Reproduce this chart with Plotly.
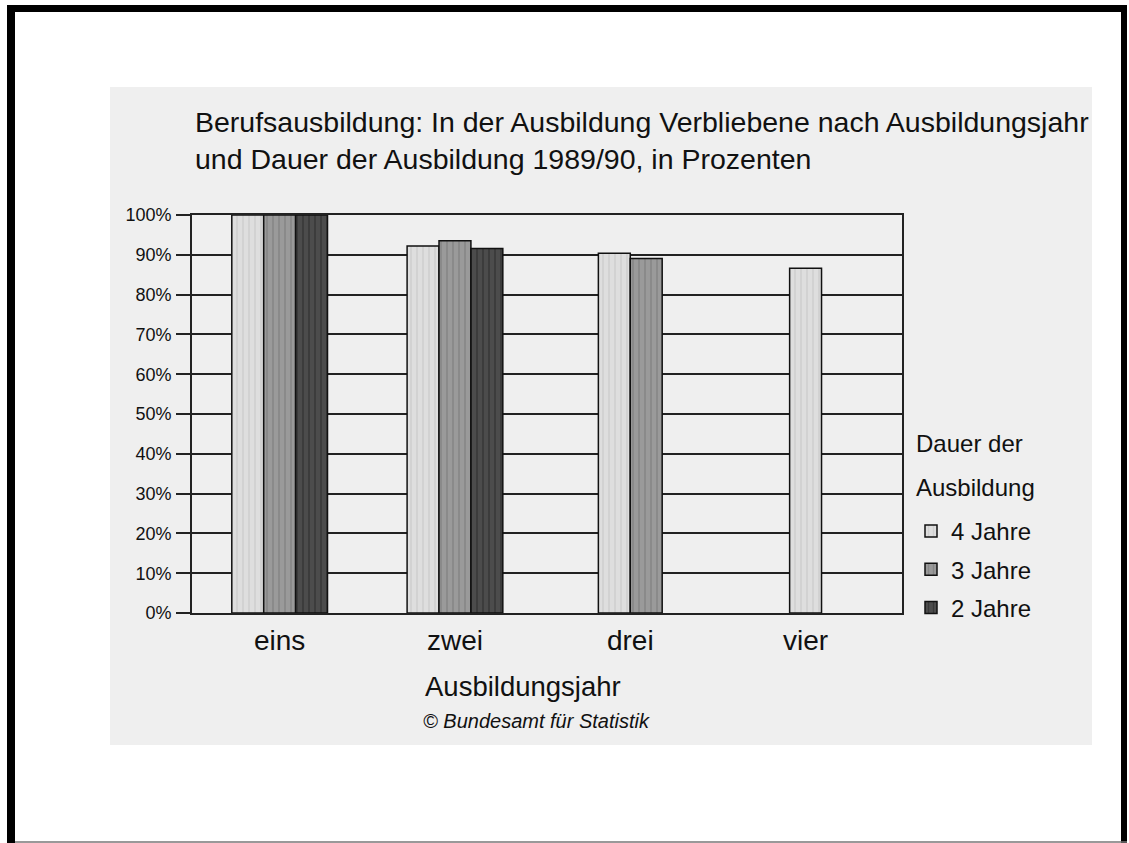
import plotly.graph_objects as go

# ---- data ----
categories = ["eins", "zwei", "drei", "vier"]
series_names = ["4 Jahre", "3 Jahre", "2 Jahre"]
vals_4_jahre = [100, 92.2, 90.4, 86.6]
vals_3_jahre = [100, 93.5, 89.1, None]
vals_2_jahre = [100, 91.6, None, None]
y_ticks = [0, 10, 20, 30, 40, 50, 60, 70, 80, 90, 100]
y_tick_labels = ["0%", "10%", "20%", "30%", "40%", "50%", "60%", "70%", "80%", "90%", "100%"]

series_values = [vals_4_jahre, vals_3_jahre, vals_2_jahre]
fills = ["#dedede", "#9a9a9a", "#4c4c4c"]
streaks = ["#cfcfcf", "#858585", "#363636"]

FONT = "Liberation Sans, Arial, Helvetica, sans-serif"
W, H = 1129, 843
# plot area in px
L, R, T, B = 192, 902, 215, 613


def px(xs):
    return (xs - L) / (R - L)


def py(ys):
    return (B - ys) / (B - T)


# bars centred per category among the series that have a value
bar_w = 0.182
offsets = []
for s_idx, vals in enumerate(series_values):
    offs = []
    for c_idx in range(len(categories)):
        present = [k for k in range(len(series_values)) if series_values[k][c_idx] is not None]
        n = len(present)
        if vals[c_idx] is None:
            offs.append(0)
        else:
            k = present.index(s_idx)
            offs.append(-n * bar_w / 2 + k * bar_w)
    offsets.append(offs)

fig = go.Figure()
for name, vals, offs, col, st in zip(series_names, series_values, offsets, fills, streaks):
    fig.add_trace(go.Bar(
        x=list(range(len(categories))), y=vals, name=name,
        width=bar_w, offset=offs,
        marker=dict(color=col, line=dict(color="#111111", width=1.5),
                    pattern=dict(shape="|", bgcolor=col, fgcolor=st, size=6, solidity=0.25,
                                 fillmode="replace")),
        legendgroup=name,
    ))

shapes = [
    # light grey scanned page
    dict(type="rect", xref="paper", yref="paper", x0=px(110), x1=px(1092), y0=py(745), y1=py(87),
         fillcolor="#efefef", line=dict(width=0), layer="below"),
    # black frame
    dict(type="rect", xref="paper", yref="paper", x0=px(7), x1=px(15), y0=py(843), y1=py(5),
         fillcolor="#000000", line=dict(width=0)),
    dict(type="rect", xref="paper", yref="paper", x0=px(7), x1=px(1127), y0=py(12), y1=py(5),
         fillcolor="#000000", line=dict(width=0)),
    dict(type="rect", xref="paper", yref="paper", x0=px(1121), x1=px(1127), y0=py(843), y1=py(5),
         fillcolor="#000000", line=dict(width=0)),
    dict(type="line", xref="paper", yref="paper", x0=px(15), x1=px(1127), y0=py(842), y1=py(842),
         line=dict(color="#777777", width=1.5)),
]

annotations = [
    dict(text="Ausbildungsjahr", xref="paper", yref="paper", x=px(523), y=py(686),
         xanchor="center", yanchor="middle", showarrow=False,
         font=dict(family=FONT, size=27.5, color="#111111")),
    dict(text="<i>© Bundesamt für Statistik</i>", xref="paper", yref="paper", x=px(421), y=py(721),
         xanchor="left", yanchor="middle", showarrow=False,
         font=dict(family=FONT, size=20, color="#111111")),
    dict(text="Dauer der", xref="paper", yref="paper", x=px(914), y=py(443),
         xanchor="left", yanchor="middle", showarrow=False,
         font=dict(family=FONT, size=24, color="#111111")),
    dict(text="Ausbildung", xref="paper", yref="paper", x=px(914), y=py(487),
         xanchor="left", yanchor="middle", showarrow=False,
         font=dict(family=FONT, size=24, color="#111111")),
]

fig.update_layout(
    width=W, height=H,
    margin=dict(l=L, r=W - R, t=T, b=H - B, autoexpand=False),
    paper_bgcolor="#ffffff",
    plot_bgcolor="#efefef",
    barmode="overlay",
    font=dict(family=FONT, color="#111111"),
    title=dict(
        text="Berufsausbildung: In der Ausbildung Verbliebene nach Ausbildungsjahr<br>"
             "und Dauer der Ausbildung 1989/90, in Prozenten",
        x=px(195), xref="paper", xanchor="left",
        y=1 - 132 / H, yref="container", yanchor="top",
        font=dict(family=FONT, size=28.5, color="#111111"),
    ),
    xaxis=dict(
        tickmode="array", tickvals=list(range(len(categories))), ticktext=categories,
        range=[-0.5, 3.55], showgrid=False, zeroline=False,
        showline=True, linecolor="#222222", linewidth=1.5, mirror=True,
        ticks="", tickfont=dict(family=FONT, size=28, color="#111111"),
        ticklabelstandoff=2,
    ),
    yaxis=dict(
        range=[0, 100], tickmode="array", tickvals=y_ticks, ticktext=y_tick_labels,
        showgrid=True, gridcolor="#222222", gridwidth=1.6, zeroline=False,
        showline=True, linecolor="#222222", linewidth=1.6, mirror=True,
        ticks="outside", ticklen=14, tickwidth=1.6, tickcolor="#222222",
        tickfont=dict(family=FONT, size=18, color="#111111"),
        ticklabelstandoff=1,
    ),
    legend=dict(
        x=px(911), y=py(509), xanchor="left", yanchor="top",
        xref="paper", yref="paper",
        font=dict(family=FONT, size=24, color="#111111"),
        bgcolor="rgba(0,0,0,0)", traceorder="grouped", tracegroupgap=4,
        itemwidth=30,
    ),
    shapes=shapes,
    annotations=annotations,
)

fig.write_html(
    "out.html",
    config={"displayModeBar": False},
    post_script="document.body.style.margin='0';document.documentElement.style.overflow='hidden';",
)
